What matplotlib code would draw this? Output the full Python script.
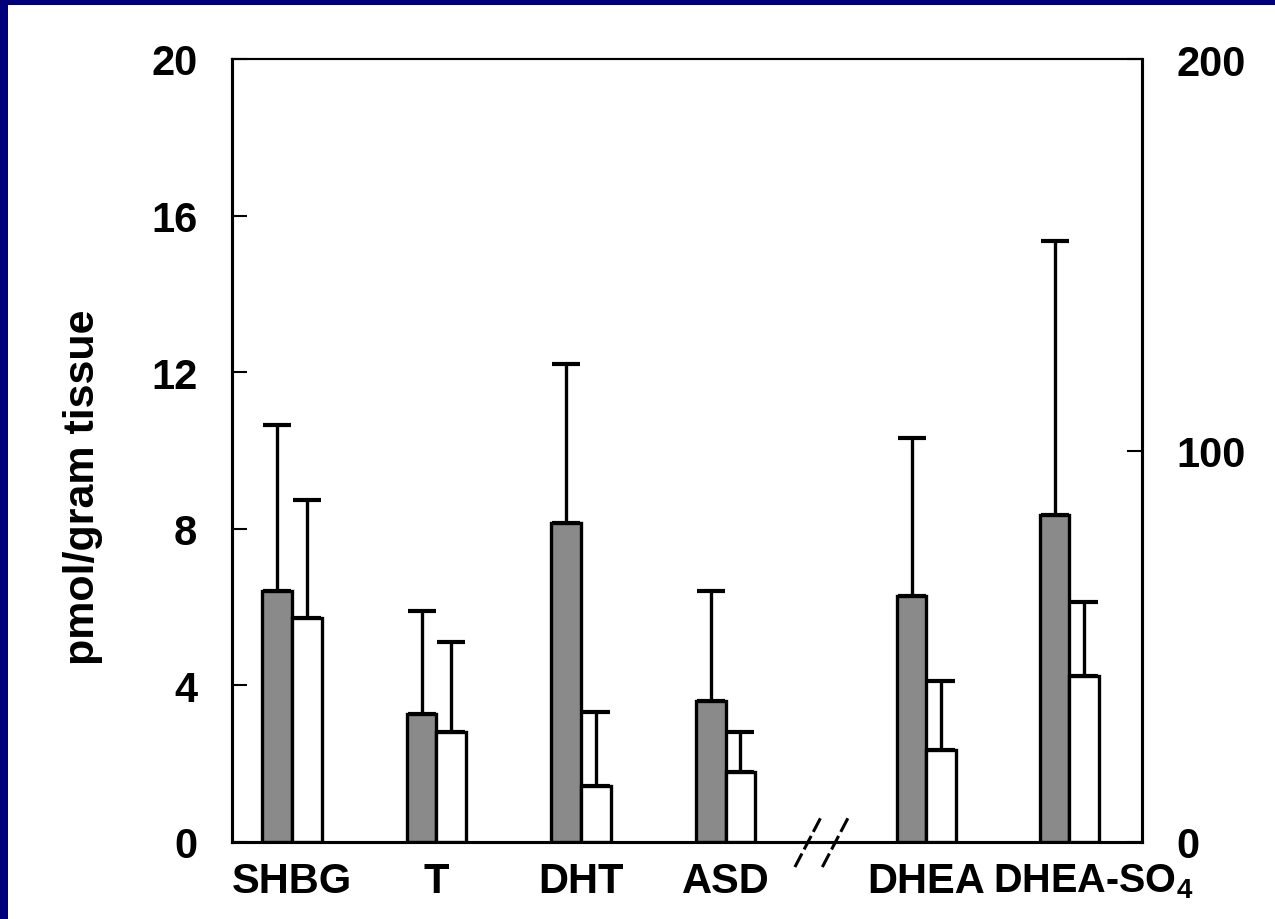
import matplotlib.pyplot as plt
from matplotlib.patches import Rectangle
from matplotlib.transforms import ScaledTranslation

plt.rcParams['font.family'] = ['Liberation Sans', 'DejaVu Sans']
plt.rcParams['font.weight'] = 'bold'
plt.rcParams['mathtext.fontset'] = 'custom'
plt.rcParams['mathtext.rm'] = 'Liberation Sans:bold'
plt.rcParams['mathtext.default'] = 'rm'

# categories and group positions (gap after ASD for the axis break)
labels = ['SHBG', 'T', 'DHT', 'ASD', 'DHEA', 'DHEA-SO$_4$']
positions = [0, 1, 2, 3, 4.39, 5.38]

# left axis (pmol/gram tissue) groups
gray_left = [6.41, 3.27, 8.15, 3.60]
gray_left_err = [4.24, 2.63, 4.06, 2.81]
white_left = [5.72, 2.81, 1.43, 1.79]
white_left_err = [3.02, 2.30, 1.89, 1.02]

# right axis (0-200) groups
gray_right = [62.8, 83.5]
gray_right_err = [40.4, 70.0]
white_right = [23.5, 42.4]
white_right_err = [17.6, 18.9]

W = 0.205
NAVY = '#00007a'
GRAY = '#8a8a8a'

fig = plt.figure(figsize=(12.75, 9.2), dpi=100, facecolor=NAVY)
fig.patches.append(Rectangle((8 / 1275, 0), 1, 1 - 6 / 920, transform=fig.transFigure,
                             facecolor='white', edgecolor='none', zorder=-10))

ax = fig.add_axes([232 / 1275, 77 / 920, 910 / 1275, 783 / 920])
ax2 = ax.twinx()

bar_kw = dict(width=W, edgecolor='black', linewidth=2.4, zorder=3)
err_kw = dict(elinewidth=2.4, capthick=3, ecolor='black', zorder=2)

xl = positions[:4]
ax.bar([p - W / 2 for p in xl], gray_left, color=GRAY,
       yerr=[[0] * 4, gray_left_err], capsize=10, error_kw=err_kw, **bar_kw)
ax.bar([p + W / 2 for p in xl], white_left, color='white',
       yerr=[[0] * 4, white_left_err], capsize=10, error_kw=err_kw, **bar_kw)

xr = positions[4:]
ax2.bar([p - W / 2 for p in xr], gray_right, color=GRAY,
        yerr=[[0] * 2, gray_right_err], capsize=10, error_kw=err_kw, **bar_kw)
ax2.bar([p + W / 2 for p in xr], white_right, color='white',
        yerr=[[0] * 2, white_right_err], capsize=10, error_kw=err_kw, **bar_kw)

ax.set_xlim(-0.415, 5.882)
ax.set_ylim(0, 20)
ax2.set_ylim(0, 200)

ax.set_yticks([0, 4, 8, 12, 16, 20])
ax2.set_yticks([0, 100, 200])
ax.tick_params(axis='y', direction='in', length=11, width=1.5, pad=25, labelsize=30)
ax2.tick_params(axis='y', direction='in', length=11, width=1.5, pad=25, labelsize=30)

ax.set_xticks(positions)
ax.set_xticklabels(labels)
ax.tick_params(axis='x', length=0, pad=14, labelsize=30)
last = ax.get_xticklabels()[-1]
last.set_fontsize(28.5)
last.set_transform(last.get_transform() + ScaledTranslation(0.24, 0, fig.dpi_scale_trans))

for a in (ax, ax2):
    for s in a.spines.values():
        s.set_linewidth(2.2)
    a.spines['top'].set_linewidth(1.5)

fig.text(83 / 1275, 1 - 487 / 920, 'pmol/gram tissue', rotation=90,
         ha='center', va='center', fontsize=31, fontweight='bold')

# axis break marks
for x0 in (3.48, 3.67):
    ax.plot([x0, x0 + 0.19], [-0.64, 0.70], color='black', lw=2.2,
            dashes=(5, 1.5), clip_on=False, zorder=5)

fig.savefig('out.png', dpi=100, facecolor=NAVY)
